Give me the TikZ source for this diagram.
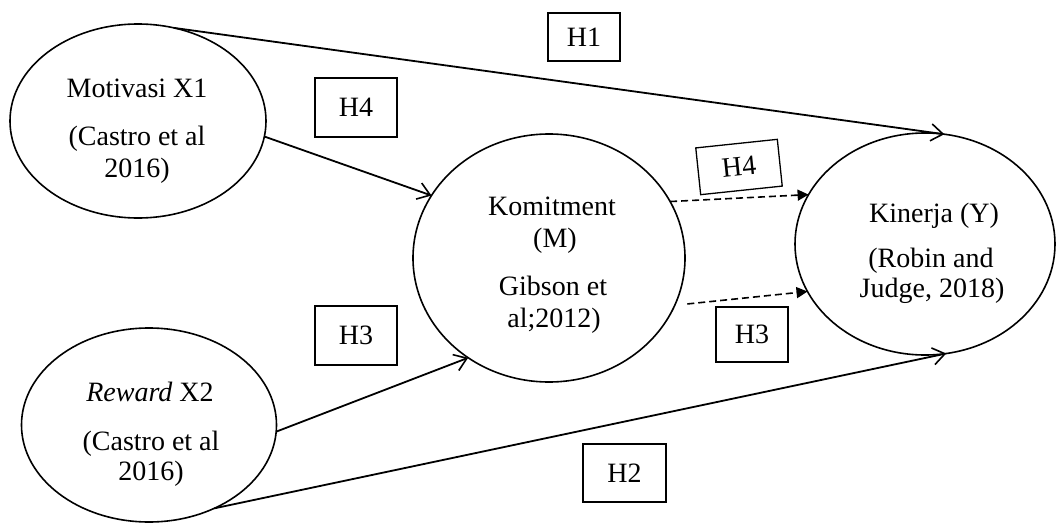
\documentclass[tikz,border=0pt]{standalone}
\usepackage{fontspec}
\setmainfont{Liberation Serif}
\usetikzlibrary{arrows.meta,shapes.geometric}
\begin{document}
\begin{tikzpicture}[x=1pt,y=-1pt,
  ell/.style={draw, ellipse, line width=1.6pt, inner sep=0pt, outer sep=0pt},
  txt/.style={anchor=base, inner sep=0pt, font=\fontsize{28}{32}\selectfont},
  hbox/.style={draw, line width=1.3pt, inner sep=0pt, font=\fontsize{28}{32}\selectfont},
  solidarrow/.style={line width=1.8pt, -{Straight Barb[length=12pt,width=17pt,line width=1.6pt]}},
  dasharrow/.style={line width=1.6pt, dash pattern=on 7pt off 4pt, -{Triangle[length=11pt,width=11pt]}}
]
\useasboundingbox (0,0) rectangle (1060,522);

% ellipses
\node[ell, minimum width=256pt, minimum height=194pt] (mot) at (138,121) {};
\node[ell, minimum width=255pt, minimum height=194pt] (rew) at (149,425) {};
\node[ell, minimum width=272pt, minimum height=248pt] (kom) at (549,258) {};
\node[ell, minimum width=260pt, minimum height=222pt] (kin) at (925,244) {};

% texts
\node[txt] (mot1) at (137,97) {Motivasi X1};
\node[txt] (mot2) at (137,145) {(Castro et al};
\node[txt] (mot3) at (137,177) {2016)};

\node[txt] (rew1) at (150,401) {\textit{Reward} X2};
\node[txt] (rew2) at (151,450) {(Castro et al};
\node[txt] (rew3) at (151,480) {2016)};

\node[txt] (kom1) at (552,215) {Komitment};
\node[txt] (kom2) at (555,247) {(M)};
\node[txt] (kom3) at (553,295) {Gibson et};
\node[txt] (kom4) at (554,327) {al;2012)};

\node[txt] (kin1) at (934,222) {Kinerja (Y)};
\node[txt] (kin2) at (931,267) {(Robin and};
\node[txt] (kin3) at (932,297) {Judge, 2018)};

% hypothesis boxes
\node[hbox, minimum width=72pt, minimum height=48pt] (h1) at (584,37) {H1};
\node[hbox, minimum width=82pt, minimum height=59pt] (h4a) at (356,107.5) {H4};
\node[hbox, minimum width=82pt, minimum height=47pt, rotate=6] (h4b) at (739,167) {H4};
\node[hbox, minimum width=82pt, minimum height=59pt] (h3a) at (356,335.5) {H3};
\node[hbox, minimum width=72pt, minimum height=55pt] (h3b) at (752,334.5) {H3};
\node[hbox, minimum width=83pt, minimum height=58pt] (h2) at (624.5,473) {H2};

% connectors
\draw[solidarrow] (mot.69) -- (kin.80);
\draw[solidarrow] (mot.-7) -- (kom.152);
\draw[solidarrow] (rew.-3) -- (kom.231);
\draw[solidarrow] (rew.-52) -- (kin.-79);
\draw[dasharrow] (kom.25) -- (kin.157);
\draw[dasharrow] ([xshift=12pt]kom.-20) -- (kin.202);
\end{tikzpicture}
\end{document}
